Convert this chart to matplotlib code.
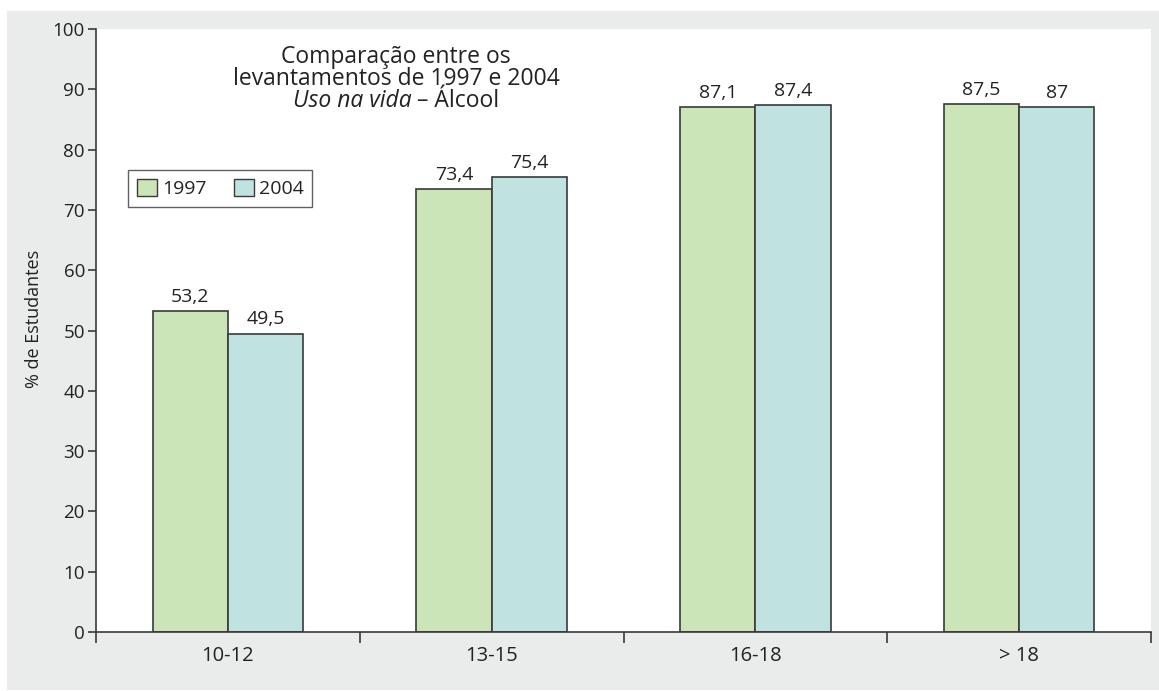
import matplotlib.pyplot as plt
import matplotlib.patches as mpatches
import numpy as np

plt.rcParams['font.family'] = ['Open Sans', 'DejaVu Sans']

# dados
faixas = ['10-12', '13-15', '16-18', '> 18']
anos = ['1997', '2004']
vals_1997 = [53.2, 73.4, 87.1, 87.5]
vals_2004 = [49.5, 75.4, 87.4, 87]

cor_1997 = '#cbe4b8'
cor_2004 = '#c0e3e1'
cor_fundo = '#e9eceb'
cor_borda = '#3a3a3a'
cor_texto = '#222222'


def fmt(v):
    return f"{v:g}".replace('.', ',')


fig = plt.figure(figsize=(11.59, 6.91), dpi=100, facecolor='white')
# fundo cinza
fig.patches.append(mpatches.Rectangle((7 / 1159, 1 - 690 / 691), 1, (690 - 11) / 691,
                                      transform=fig.transFigure, facecolor=cor_fundo,
                                      edgecolor='none', zorder=-10))

ax = fig.add_axes([96 / 1159, 1 - 632 / 691, (1151 - 96) / 1159, (632 - 29) / 691])
ax.set_facecolor('white')

x = np.arange(len(faixas))
w = 0.285
b1 = ax.bar(x - w / 2, vals_1997, w, color=cor_1997, edgecolor=cor_borda, linewidth=1.2, label=anos[0])
b2 = ax.bar(x + w / 2, vals_2004, w, color=cor_2004, edgecolor=cor_borda, linewidth=1.2, label=anos[1])

for bars, vals in [(b1, vals_1997), (b2, vals_2004)]:
    for r, v in zip(bars, vals):
        ax.annotate(fmt(v), (r.get_x() + r.get_width() / 2, v), xytext=(0, 6.5),
                    textcoords='offset points', ha='center', va='baseline',
                    fontsize=14, color=cor_texto)

ax.set_xlim(-0.5, len(faixas) - 0.5)
ax.set_ylim(0, 100)
ax.set_yticks(range(0, 101, 10))
ax.set_xticks(x)
ax.set_xticklabels(faixas)
ax.set_xticks(np.arange(-0.5, len(faixas), 1), minor=True)
ax.tick_params(axis='x', which='major', length=0, labelsize=14.5, pad=10, colors=cor_texto)
ax.tick_params(axis='x', which='minor', length=8, width=1.2, color=cor_borda)
ax.tick_params(axis='y', length=6, width=1.2, color=cor_borda, labelsize=13.5, pad=2,
               labelcolor=cor_texto)

for s in ['top', 'right']:
    ax.spines[s].set_visible(False)
for s in ['left', 'bottom']:
    ax.spines[s].set_color(cor_borda)
    ax.spines[s].set_linewidth(1.2)

ax.set_ylabel('% de Estudantes', fontsize=13, color=cor_texto)
ax.yaxis.set_label_coords(-0.05, 0.52)

# titulo
cx = 396 / 1159
fs_t = 16.5
fig.text(cx, 1 - 63 / 691, 'Comparação entre os', ha='center', va='baseline',
         fontsize=fs_t, color=cor_texto)
fig.text(cx, 1 - 85 / 691, 'levantamentos de 1997 e 2004', ha='center', va='baseline',
         fontsize=fs_t, color=cor_texto)
t_ital = fig.text(0, 1 - 107 / 691, 'Uso na vida', ha='left', va='baseline',
                  fontsize=fs_t, style='italic', color=cor_texto)
t_norm = fig.text(0, 1 - 107 / 691, ' – Álcool', ha='left', va='baseline',
                  fontsize=fs_t, color=cor_texto)
# centrar a terceira linha
r = fig.canvas.get_renderer()
w1 = t_ital.get_window_extent(r).width / fig.bbox.width
w2 = t_norm.get_window_extent(r).width / fig.bbox.width
x0 = cx - (w1 + w2) / 2
t_ital.set_x(x0)
t_norm.set_x(x0 + w1)

handles = [mpatches.Patch(facecolor=cor_1997, edgecolor=cor_borda, linewidth=1, label=anos[0]),
           mpatches.Patch(facecolor=cor_2004, edgecolor=cor_borda, linewidth=1, label=anos[1])]
leg = ax.legend(handles=handles, ncol=2, loc='upper left',
                bbox_to_anchor=((128 - 96) / 1055, (632 - 170) / 603),
                fontsize=14, frameon=True, fancybox=False, handlelength=1.03,
                handleheight=1.0, handletextpad=0.26, columnspacing=1.4,
                borderpad=0.45, borderaxespad=0, labelcolor=cor_texto)
leg.get_frame().set_edgecolor(cor_borda)
leg.get_frame().set_linewidth(1)

fig.savefig('out.png', dpi=100, facecolor=fig.get_facecolor())
